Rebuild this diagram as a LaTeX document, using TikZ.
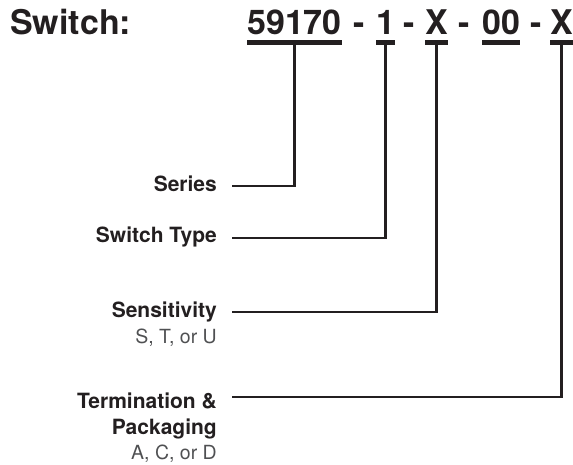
\documentclass[tikz,border=0pt]{standalone}
\usepackage{fontspec}
\setmainfont{TeX Gyre Heros}
\definecolor{ink}{HTML}{231F20}
\definecolor{optgray}{HTML}{4F5052}
\tikzset{
  head/.style={font=\fontsize{34}{36}\selectfont\bfseries, text=ink, inner sep=0pt, anchor=base west},
  lbl/.style={font=\fontsize{21}{24}\selectfont\bfseries, text=ink, inner sep=0pt, anchor=base east},
  opt/.style={font=\fontsize{19.5}{24}\selectfont, text=optgray, inner sep=0pt, anchor=base east},
  uline/.style={ink, line width=4.5pt},
  conn/.style={ink, line width=2.6pt, line join=miter},
}
\begin{document}
\begin{tikzpicture}[x=1pt,y=-1pt]
  \useasboundingbox (0,0) rectangle (573,465);
  % part number
  \node[head] (switch) at (10,35) {Switch:};
  \node[head] (pSeries) at (247,35) {59170};
  \node[head] (dash1) at (353,35) {-};
  \node[head] (pType) at (376,35) {1};
  \node[head] (dash2) at (403,35) {-};
  \node[head] (pSens) at (425,35) {X};
  \node[head] (dash3) at (458,35) {-};
  \node[head] (pFix) at (482,35) {00};
  \node[head] (dash4) at (530,35) {-};
  \node[head] (pTerm) at (550,35) {X};
  \foreach \p in {pSeries,pType,pSens,pFix,pTerm}
    \draw[uline] ([yshift=-7.5pt]\p.base west) -- ([yshift=-7.5pt]\p.base east);
  % labels
  \node[lbl] (lSeries) at (217,192) {Series};
  \node[lbl] (lType) at (217,243) {Switch Type};
  \node[lbl] (lSens) at (217,317) {Sensitivity};
  \node[opt] (oSens) at (217,343) {S, T, or U};
  \node[lbl] (lTerm) at (217,408) {Termination \&};
  \node[lbl] (lPack) at (217,434) {Packaging};
  \node[opt] (oTerm) at (217,459) {A, C, or D};
  \coordinate (cSeries) at ([xshift=15pt,yshift=6pt]lSeries.base east);
  \coordinate (cType) at ([xshift=15pt,yshift=5pt]lType.base east);
  \coordinate (cSens) at ([xshift=15pt,yshift=5pt]lSens.base east);
  \coordinate (cTerm) at ([xshift=15pt,yshift=11pt]lTerm.base east);
  % connectors
  \draw[conn] ([yshift=-7.5pt]pSeries.base) |- (cSeries);
  \draw[conn] ([yshift=-7.5pt]pType.base) |- (cType);
  \draw[conn] ([yshift=-7.5pt]pSens.base) |- (cSens);
  \draw[conn] ([yshift=-7.5pt]pTerm.base) |- (cTerm);
\end{tikzpicture}
\end{document}
